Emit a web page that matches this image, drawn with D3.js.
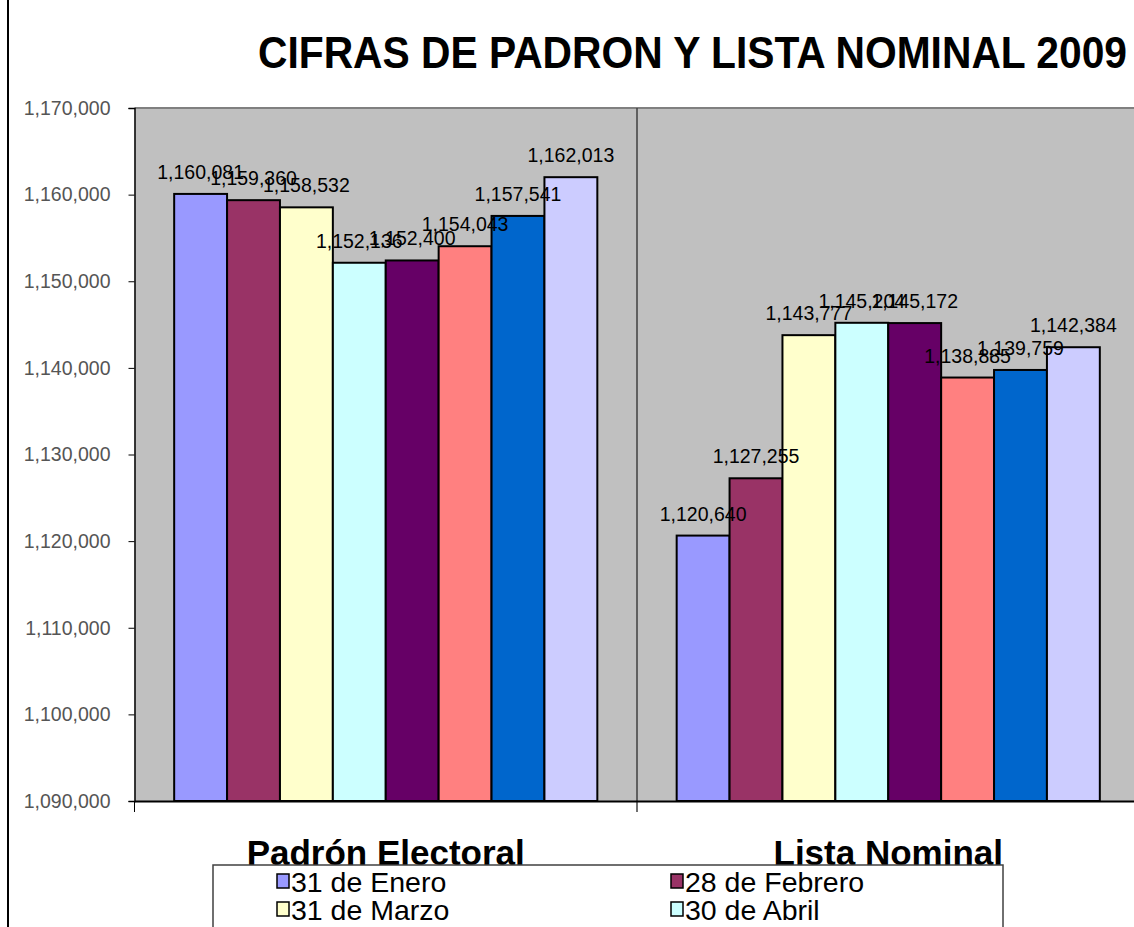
<!DOCTYPE html>
<html>
<head>
<meta charset="utf-8">
<script src="https://cdn.jsdelivr.net/npm/d3@7"></script>
<style>
  body { margin: 0; background: #fff; }
  svg { display: block; font-family: "Liberation Sans", Arial, sans-serif; }
</style>
</head>
<body>
<div id="chart"></div>
<script>
// categories on the x axis
var categories = ["Padrón Electoral", "Lista Nominal"];

// one series per cut-off date (only the first four are visible in the legend)
var seriesNames = ["31 de Enero", "28 de Febrero", "31 de Marzo", "30 de Abril",
                   "31 de Mayo", "30 de Junio", "31 de Julio", "31 de Agosto"];

var padronValues = [1160081, 1159360, 1158532, 1152136, 1152400, 1154043, 1157541, 1162013];
var listaValues  = [1120640, 1127255, 1143777, 1145204, 1145172, 1138885, 1139759, 1142384];

var seriesColors = ["#9999FF", "#993366", "#FFFFCC", "#CCFFFF", "#660066", "#FF8080", "#0066CC", "#CCCCFF"];

var yTicks = [1090000, 1100000, 1110000, 1120000, 1130000, 1140000, 1150000, 1160000, 1170000];

var width = 1134, height = 927;
var plot = {left: 134.5, right: 1139.5, top: 108, bottom: 801};

var svg = d3.select("#chart").append("svg")
    .attr("width", width)
    .attr("height", height);

// page frame line on the left
svg.append("line")
    .attr("x1", 8).attr("x2", 8)
    .attr("y1", 0).attr("y2", height)
    .attr("stroke", "#000").attr("stroke-width", 2);

// title
svg.append("text")
    .attr("x", 258).attr("y", 68)
    .attr("font-size", 44).attr("font-weight", "bold")
    .attr("textLength", 869).attr("lengthAdjust", "spacingAndGlyphs")
    .text("CIFRAS DE PADRON  Y LISTA NOMINAL 2009");

var x0 = d3.scaleBand()
    .domain(categories)
    .range([plot.left, plot.right]);

var x1 = d3.scaleBand()
    .domain(seriesNames)
    .range([0, x0.bandwidth()])
    .paddingOuter(0.75);

var y = d3.scaleLinear()
    .domain([1090000, 1170000])
    .range([plot.bottom, plot.top]);

// plot background
svg.append("rect")
    .attr("x", plot.left).attr("y", plot.top)
    .attr("width", plot.right - plot.left)
    .attr("height", plot.bottom - plot.top)
    .attr("fill", "#C0C0C0");

svg.append("line")
    .attr("x1", plot.left).attr("x2", plot.right)
    .attr("y1", plot.top).attr("y2", plot.top)
    .attr("stroke", "#808080").attr("stroke-width", 2);

// category divider
svg.append("line")
    .attr("x1", x0(categories[1])).attr("x2", x0(categories[1]))
    .attr("y1", plot.top).attr("y2", plot.bottom + 11)
    .attr("stroke", "#404040").attr("stroke-width", 1.5);

var rows = [];
categories.forEach(function(c, ci) {
    var vals = ci == 0 ? padronValues : listaValues;
    seriesNames.forEach(function(s, si) {
        rows.push({cat: c, series: s, value: vals[si], color: seriesColors[si]});
    });
});

var g = svg.append("g");

g.selectAll("rect.bar")
    .data(rows)
    .enter().append("rect")
    .attr("class", "bar")
    .attr("x", function(d) { return x0(d.cat) + x1(d.series); })
    .attr("y", function(d) { return y(d.value); })
    .attr("width", x1.bandwidth())
    .attr("height", function(d) { return plot.bottom - y(d.value); })
    .attr("fill", function(d) { return d.color; })
    .attr("stroke", "#000")
    .attr("stroke-width", 2);

g.selectAll("text.lbl")
    .data(rows)
    .enter().append("text")
    .attr("class", "lbl")
    .attr("x", function(d) { return x0(d.cat) + x1(d.series) + x1.bandwidth() / 2; })
    .attr("y", function(d) { return y(d.value) - 15; })
    .attr("text-anchor", "middle")
    .attr("font-size", 19.5)
    .attr("fill", "#000")
    .text(function(d) { return d3.format(",")(d.value); });

// y axis
var yAxis = svg.append("g")
    .attr("transform", "translate(" + plot.left + ",0)")
    .call(d3.axisLeft(y).tickValues(yTicks).tickFormat(d3.format(",")).tickSize(6).tickPadding(18));
yAxis.select(".domain").attr("stroke", "#000").attr("stroke-width", 1.5);
yAxis.selectAll(".tick line").attr("stroke", "#000");
yAxis.selectAll(".tick text")
    .attr("font-size", 19.5).attr("fill", "#555")
    .attr("font-family", "Liberation Sans, Arial, sans-serif");

// x axis
var xAxis = svg.append("g")
    .attr("transform", "translate(0," + plot.bottom + ")")
    .call(d3.axisBottom(x0).tickSize(0).tickPadding(0));
xAxis.select(".domain").attr("stroke", "#000").attr("stroke-width", 2);
xAxis.selectAll(".tick text").remove();
xAxis.append("line")
    .attr("x1", plot.left).attr("x2", plot.left)
    .attr("y1", 0).attr("y2", 11)
    .attr("stroke", "#000");

svg.selectAll("text.cat")
    .data(categories)
    .enter().append("text")
    .attr("class", "cat")
    .attr("x", function(d) { return x0(d) + x0.bandwidth() / 2; })
    .attr("y", 865)
    .attr("text-anchor", "middle")
    .attr("font-size", 35)
    .attr("font-weight", "bold")
    .text(function(d) { return d; });

// legend (runs off the bottom of the page, as in the original)
var legend = svg.append("g");
legend.append("rect")
    .attr("x", 213).attr("y", 865)
    .attr("width", 790).attr("height", 130)
    .attr("fill", "#fff").attr("stroke", "#404040").attr("stroke-width", 1.5);

var item = legend.selectAll("g.item")
    .data(seriesNames)
    .enter().append("g")
    .attr("class", "item")
    .attr("transform", function(d, i) {
        return "translate(" + (i % 2 == 0 ? 277 : 671) + "," + (892 + Math.floor(i / 2) * 28) + ")";
    });

item.append("rect")
    .attr("x", 0).attr("y", -18)
    .attr("width", 12).attr("height", 14)
    .attr("fill", function(d, i) { return seriesColors[i]; })
    .attr("stroke", "#000").attr("stroke-width", 1.5);

item.append("text")
    .attr("x", 14)
    .attr("font-size", 28.5)
    .text(function(d) { return d; });
</script>
</body>
</html>
